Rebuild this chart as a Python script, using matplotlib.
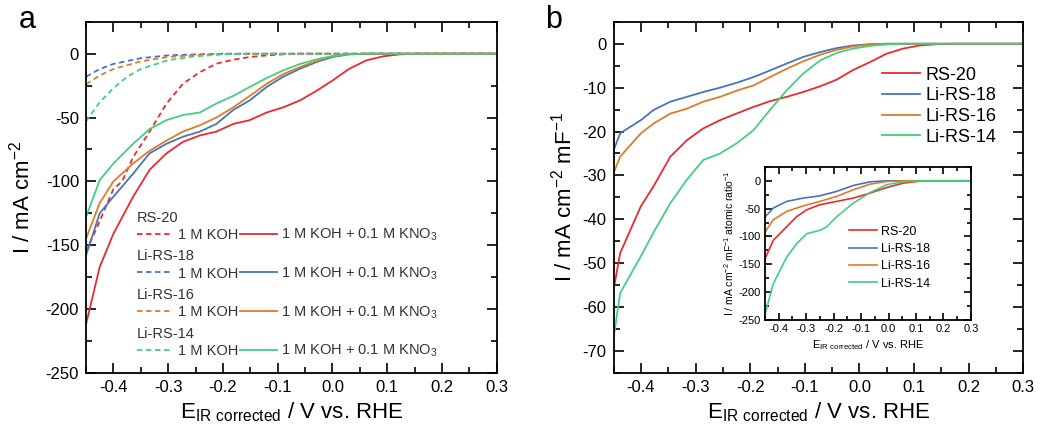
import numpy as np
import matplotlib
matplotlib.use('Agg')
import matplotlib.pyplot as plt
from matplotlib.lines import Line2D
from matplotlib.ticker import MultipleLocator

plt.rcParams['font.family'] = ['Liberation Sans', 'DejaVu Sans']
plt.rcParams['mathtext.fontset'] = 'custom'
plt.rcParams['mathtext.rm'] = 'Liberation Sans'
plt.rcParams['mathtext.default'] = 'regular'
plt.rcParams['axes.unicode_minus'] = False

RED = '#ec2a2e'
BLUE = '#4674bf'
ORANGE = '#de7b2a'
GREEN = '#43cf7f'

# ---- panel a : 1 M KOH + 0.1 M KNO3 (solid) ----
a_red_x = [-0.45, -0.425, -0.4, -0.364, -0.334, -0.303, -0.273, -0.242, -0.212, -0.181, -0.151, -0.12,
           -0.09, -0.059, -0.029, 0.0, 0.031, 0.062, 0.093, 0.123, 0.154, 0.2, 0.3]
a_red_y = [-212, -167, -141, -112, -91, -78, -69, -64, -61, -55, -52, -46,
           -42, -36.5, -29, -21, -11.7, -5.2, -2, -0.5, 0, 0, 0]
a_blue_x = [-0.45, -0.425, -0.4, -0.364, -0.334, -0.303, -0.273, -0.242, -0.212, -0.181, -0.151, -0.12,
            -0.09, -0.059, -0.029, 0.0, 0.031, 0.062, 0.3]
a_blue_y = [-158, -125, -112, -94, -78, -70.5, -65, -61, -55, -44, -36.5, -26,
            -18, -11.7, -6.5, -2.6, -0.5, 0, 0]
a_orange_x = [-0.45, -0.425, -0.4, -0.364, -0.334, -0.303, -0.273, -0.242, -0.212, -0.181, -0.151, -0.12,
              -0.09, -0.059, -0.029, 0.0, 0.031, 0.062, 0.3]
a_orange_y = [-145, -117, -100, -86, -76, -68, -61, -56, -50, -42, -33, -23.5,
              -16, -10.4, -5.7, -2, -0.3, 0, 0]
a_green_x = [-0.45, -0.425, -0.4, -0.364, -0.334, -0.303, -0.273, -0.242, -0.212, -0.181, -0.151, -0.12,
             -0.09, -0.059, -0.029, 0.0, 0.031, 0.062, 0.3]
a_green_y = [-128, -99, -86, -70.5, -59, -52, -48, -46, -39, -33, -26, -19,
             -13, -8, -4.4, -1.8, -0.3, 0, 0]

# ---- panel a : 1 M KOH (dashed) ----
a_red_d_x = [-0.45, -0.432, -0.4, -0.384, -0.364, -0.334, -0.303, -0.273, -0.242, -0.212, -0.181,
             -0.151, -0.12, -0.09, -0.06, 0.3]
a_red_d_y = [-155, -138, -106, -100, -81, -61, -39, -23.5, -14.4, -7.8, -4.7,
             -2.6, -1.3, -0.5, 0, 0]
a_blue_d_x = [-0.45, -0.425, -0.4, -0.35, -0.3, -0.25, -0.2, 0.3]
a_blue_d_y = [-18, -12, -8, -3.5, -1.3, -0.5, 0, 0]
a_orange_d_x = [-0.45, -0.425, -0.4, -0.35, -0.3, -0.25, -0.2, -0.15, 0.3]
a_orange_d_y = [-24, -17, -12, -6, -2.5, -1, -0.3, 0, 0]
a_green_d_x = [-0.45, -0.425, -0.4, -0.375, -0.35, -0.3, -0.25, -0.2, -0.15, 0.3]
a_green_d_y = [-53, -38, -27, -18, -12, -5, -2, -0.5, 0, 0]

# ---- panel b ----
b_red_x = [-0.45, -0.438, -0.4, -0.377, -0.346, -0.316, -0.286, -0.255, -0.225, -0.194, -0.164, -0.133,
           -0.103, -0.072, -0.042, -0.012, 0.019, 0.049, 0.08, 0.11, 0.141, 0.171, 0.3]
b_red_y = [-56, -47.7, -37, -32.5, -25.7, -22, -19.3, -17.4, -15.9, -14.4, -13.1, -12.1,
           -11, -9.7, -8.2, -6, -4.2, -2.3, -1.1, -0.4, -0.1, 0, 0]
b_blue_x = [-0.45, -0.438, -0.4, -0.377, -0.346, -0.316, -0.286, -0.255, -0.225, -0.194, -0.164, -0.133,
            -0.103, -0.072, -0.042, -0.012, 0.019, 0.05, 0.3]
b_blue_y = [-24.3, -20.4, -17.4, -15.1, -13.2, -12.1, -11, -10, -8.9, -7.6, -6.1, -4.5,
            -3, -1.9, -1.0, -0.4, -0.1, 0, 0]
b_orange_x = [-0.45, -0.438, -0.4, -0.377, -0.346, -0.316, -0.286, -0.255, -0.225, -0.194, -0.164, -0.133,
              -0.103, -0.072, -0.042, -0.012, 0.019, 0.05, 0.3]
b_orange_y = [-29.5, -25.7, -20.4, -18.2, -15.9, -14.8, -13.2, -12.1, -10.7, -9.5, -7.6, -5.7,
              -4, -2.5, -1.4, -0.6, -0.15, 0, 0]
b_green_x = [-0.45, -0.438, -0.4, -0.377, -0.346, -0.316, -0.286, -0.255, -0.225, -0.194, -0.164, -0.133,
             -0.103, -0.072, -0.042, -0.012, 0.019, 0.049, 0.08, 0.3]
b_green_y = [-67, -56.8, -48.4, -43, -36.3, -31, -26.5, -25, -22.7, -19.7, -15.1, -10.6,
             -6.8, -3.8, -2.1, -1.1, -0.5, -0.15, 0, 0]

# ---- inset ----
i_red_x = [-0.45, -0.42, -0.371, -0.335, -0.298, -0.25, -0.189, -0.128, -0.067, -0.007, 0.054, 0.115, 0.176, 0.3]
i_red_y = [-140, -107, -82.5, -64.5, -52, -43, -37, -31, -22, -12, -4.2, -0.6, 0, 0]
i_blue_x = [-0.45, -0.42, -0.371, -0.31, -0.25, -0.189, -0.128, -0.067, -0.007, 0.3]
i_blue_y = [-65, -49, -37, -31, -27, -19, -8.4, -1.8, 0, 0]
i_orange_x = [-0.45, -0.42, -0.371, -0.31, -0.25, -0.189, -0.128, -0.067, -0.007, 0.054, 0.3]
i_orange_y = [-92, -70, -55, -45, -37, -28, -16, -6, -1.2, 0, 0]
i_green_x = [-0.45, -0.42, -0.371, -0.335, -0.298, -0.25, -0.225, -0.189, -0.128, -0.067, -0.007, 0.054, 0.115, 0.3]
i_green_y = [-240, -185, -137, -113, -95, -89, -82.5, -64.5, -40, -21, -7, -1.8, 0, 0]

samples = ['RS-20', 'Li-RS-18', 'Li-RS-16', 'Li-RS-14']
colors = [RED, BLUE, ORANGE, GREEN]
lw = 1.3


def style_axes(ax, xmaj, xmin, ymaj, ymin, size, major_len, minor_len):
    ax.xaxis.set_major_locator(MultipleLocator(xmaj))
    ax.xaxis.set_minor_locator(MultipleLocator(xmin))
    ax.yaxis.set_major_locator(MultipleLocator(ymaj))
    ax.yaxis.set_minor_locator(MultipleLocator(ymin))
    ax.tick_params(which='both', direction='in', top=True, right=True, width=1.2, labelsize=size)
    ax.tick_params(which='major', length=major_len, pad=5)
    ax.tick_params(which='minor', length=minor_len)
    for sp in ax.spines.values():
        sp.set_linewidth(1.3)
    ax.xaxis.set_major_formatter(plt.FuncFormatter(lambda v, p: f'{v:.1f}'))


fig = plt.figure(figsize=(10.4, 4.45), dpi=100)

# panel a
ax1 = fig.add_axes([0.0827, 0.162, 0.395, 0.789])
solid_a = [(a_red_x, a_red_y), (a_blue_x, a_blue_y), (a_orange_x, a_orange_y), (a_green_x, a_green_y)]
dashed_a = [(a_red_d_x, a_red_d_y), (a_blue_d_x, a_blue_d_y), (a_orange_d_x, a_orange_d_y), (a_green_d_x, a_green_d_y)]
for (xd, yd), c in zip(dashed_a, colors):
    ax1.plot(xd, yd, color=c, lw=lw, ls=(0, (3, 2)))
for (xs, ys), c in zip(solid_a, colors):
    ax1.plot(xs, ys, color=c, lw=lw)
ax1.set_xlim(-0.45, 0.3)
ax1.set_ylim(-250, 25)
style_axes(ax1, 0.1, 0.05, 50, 25, 12, 7, 4)
ax1.set_xlabel('E$_{IR\\ corrected}$ / V vs. RHE', fontsize=16)
ax1.set_ylabel('I / mA cm$^{-2}$', fontsize=16)
ax1.yaxis.set_label_coords(-0.125, 0.5)

tops = [0.462, 0.352, 0.242, 0.132]
for name, c, yt in zip(samples, colors, tops):
    h = [Line2D([], [], color=c, lw=lw, ls=(0, (3, 2))), Line2D([], [], color=c, lw=lw)]
    leg = ax1.legend(h, ['1 M KOH', '1 M KOH + 0.1 M KNO$_3$'], ncol=2, title=name,
                     loc='upper left', bbox_to_anchor=(0.124, yt), frameon=False,
                     fontsize=10.5, title_fontsize=10.5, alignment='left',
                     handlelength=2.5, handletextpad=0.3, columnspacing=0.15,
                     labelspacing=0.15, borderpad=0, borderaxespad=0)
    leg.get_title().set_color('#333333')
    for t in leg.get_texts():
        t.set_color('#333333')
    ax1.add_artist(leg)
ax1.legend_ = None  # each group already added once

fig.text(0.026, 0.955, 'a', fontsize=22, ha='center', va='center')

# panel b
ax2 = fig.add_axes([0.590, 0.162, 0.394, 0.789])
solid_b = [(b_red_x, b_red_y), (b_blue_x, b_blue_y), (b_orange_x, b_orange_y), (b_green_x, b_green_y)]
for (xs, ys), c, name in zip(solid_b, colors, samples):
    ax2.plot(xs, ys, color=c, lw=lw, label=name)
ax2.set_xlim(-0.45, 0.3)
ax2.set_ylim(-75, 5)
style_axes(ax2, 0.1, 0.05, 10, 5, 12, 7, 4)
ax2.set_xlabel('E$_{IR\\ corrected}$ / V vs. RHE', fontsize=16)
ax2.set_ylabel('I / mA cm$^{-2}$ mF$^{-1}$', fontsize=16)
ax2.legend(loc='upper right', bbox_to_anchor=(0.935, 0.872), frameon=False, fontsize=13,
           handlelength=2.1, handletextpad=0.3, labelspacing=0.2, borderpad=0, borderaxespad=0)

fig.text(0.532, 0.955, 'b', fontsize=22, ha='center', va='center')

# inset
ax3 = fig.add_axes([0.7356, 0.281, 0.198, 0.344])
inset = [(i_red_x, i_red_y), (i_blue_x, i_blue_y), (i_orange_x, i_orange_y), (i_green_x, i_green_y)]
for (xs, ys), c, name in zip(inset, colors, samples):
    ax3.plot(xs, ys, color=c, lw=1.2, label=name)
ax3.set_xlim(-0.45, 0.3)
ax3.set_ylim(-250, 25)
style_axes(ax3, 0.1, 0.05, 50, 25, 8, 5, 3)
ax3.tick_params(which='major', pad=3)
ax3.set_xlabel('E$_{IR\\ corrected}$ / V vs. RHE', fontsize=8, labelpad=3)
ax3.set_ylabel('I / mA cm$^{-2}$ mF$^{-1}$ atomic ratio$^{-1}$', fontsize=7.5, labelpad=2)
ax3.legend(loc='upper left', bbox_to_anchor=(0.41, 0.615), frameon=False, fontsize=9,
           handlelength=2.2, handletextpad=0.3, labelspacing=0.42, borderpad=0, borderaxespad=0)

fig.savefig('out.png', dpi=100)
